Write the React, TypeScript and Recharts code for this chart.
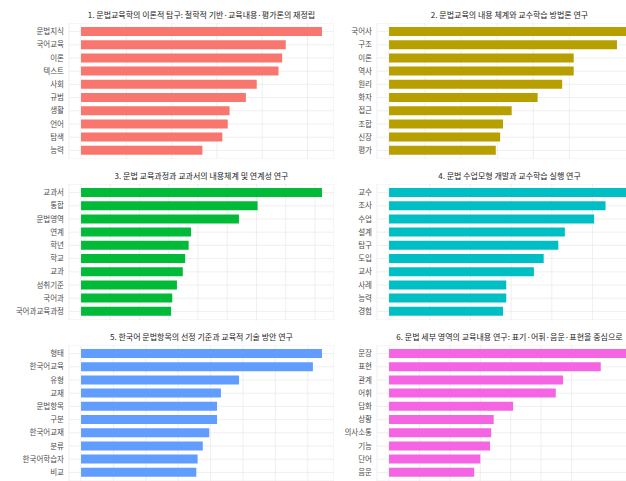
import { Bar, BarChart, CartesianGrid, XAxis, YAxis } from "recharts";

const titles = [
  "1. 문법교육학의 이론적 탐구: 철학적 기반·교육내용·평가론의 재정립",
  "2. 문법교육의 내용 체계와 교수학습 방법론 연구",
  "3. 문법 교육과정과 교과서의 내용체계 및 연계성 연구",
  "4. 문법 수업모형 개발과 교수학습 실행 연구",
  "5. 한국어 문법항목의 선정 기준과 교육적 기술 방안 연구",
  "6. 문법 세부 영역의 교육내용 연구: 표기·어휘·음운·표현을 중심으로",
];

const terms1 = ["문법지식", "국어교육", "이론", "텍스트", "사회", "규범", "생활", "언어", "탐색", "능력"];
const values1 = [133, 113, 111, 109, 97, 91, 82, 81, 78, 67];

const terms2 = ["국어사", "구조", "이론", "역사", "원리", "화자", "접근", "조합", "신장", "평가"];
const values2 = [167, 158, 128, 128, 120, 103, 85, 79, 77, 74];

const terms3 = ["교과서", "통합", "문법영역", "연계", "학년", "학교", "교과", "성취기준", "국어과", "국어과교육과정"];
const values3 = [206, 151, 135, 94, 92, 89, 87, 82, 78, 77];

const terms4 = ["교수", "조사", "수업", "설계", "탐구", "도입", "교사", "사례", "능력", "경험"];
const values4 = [148, 133, 126, 108, 104, 95, 89, 72, 72, 70];

const terms5 = ["형태", "한국어교육", "유형", "교재", "문법항목", "구분", "한국어교재", "분류", "한국어학습자", "비교"];
const values5 = [186, 179, 122, 108, 105, 105, 99, 94, 90, 89];

const terms6 = ["문장", "표현", "관계", "어휘", "담화", "상황", "의사소통", "기능", "단어", "음운"];
const values6 = [198, 174, 143, 137, 102, 86, 84, 83, 75, 70];

const colors = ["#F8766D", "#B79F00", "#00BA38", "#00BFC4", "#619CFF", "#F564E3"];

const FONT = "'Noto Sans CJK KR', 'Noto Sans', sans-serif";
const PLOT_W = 265;
const PLOT_H = 136;

type PanelProps = {
  title: string;
  terms: string[];
  values: number[];
  color: string;
  left: number;
  top: number;
  axisWidth: number;
};

function Panel({ title, terms, values, color, left, top, axisWidth }: PanelProps) {
  const data = terms.map((term, i) => ({ term, n: values[i] }));
  const max = Math.max(...values);
  const ticks: number[] = [];
  for (let v = 0; v <= max * 1.05; v += 25) ticks.push(v);

  return (
    <div style={{ position: "absolute", left, top }}>
      <div
        style={{
          position: "absolute",
          left: axisWidth,
          top: -13,
          width: PLOT_W,
          display: "flex",
          justifyContent: "center",
          whiteSpace: "nowrap",
          fontSize: 8,
          lineHeight: "10px",
          color: "#1a1a1a",
          fontFamily: FONT,
        }}
      >
        {title}
      </div>
      <BarChart
        layout="vertical"
        width={axisWidth + PLOT_W}
        height={PLOT_H}
        data={data}
        margin={{ top: 0, right: 0, bottom: 0, left: 0 }}
        barCategoryGap="15%"
      >
        <CartesianGrid stroke="#ebebeb" strokeWidth={0.8} />
        <XAxis type="number" domain={[-0.05 * max, 1.05 * max]} ticks={ticks} hide />
        <YAxis
          type="category"
          dataKey="term"
          width={axisWidth}
          tickLine={false}
          axisLine={false}
          tickSize={0}
          tickMargin={5}
          interval={0}
          padding={{ top: 2, bottom: 2 }}
          tick={{ fontSize: 7.5, fill: "#4d4d4d", fontFamily: FONT }}
        />
        <Bar dataKey="n" fill={color} isAnimationActive={false} />
      </BarChart>
    </div>
  );
}

export default function App() {
  const rows = [23, 184, 345];
  return (
    <div
      style={{
        position: "fixed",
        left: 0,
        top: 0,
        width: 626,
        height: 481,
        overflow: "hidden",
        background: "#fff",
      }}
    >
      <Panel title={titles[0]} terms={terms1} values={values1} color={colors[0]} left={0} top={rows[0]} axisWidth={69} />
      <Panel title={titles[1]} terms={terms2} values={values2} color={colors[1]} left={320} top={rows[0]} axisWidth={57} />
      <Panel title={titles[2]} terms={terms3} values={values3} color={colors[2]} left={0} top={rows[1]} axisWidth={69} />
      <Panel title={titles[3]} terms={terms4} values={values4} color={colors[3]} left={320} top={rows[1]} axisWidth={57} />
      <Panel title={titles[4]} terms={terms5} values={values5} color={colors[4]} left={0} top={rows[2]} axisWidth={69} />
      <Panel title={titles[5]} terms={terms6} values={values6} color={colors[5]} left={320} top={rows[2]} axisWidth={57} />
    </div>
  );
}
